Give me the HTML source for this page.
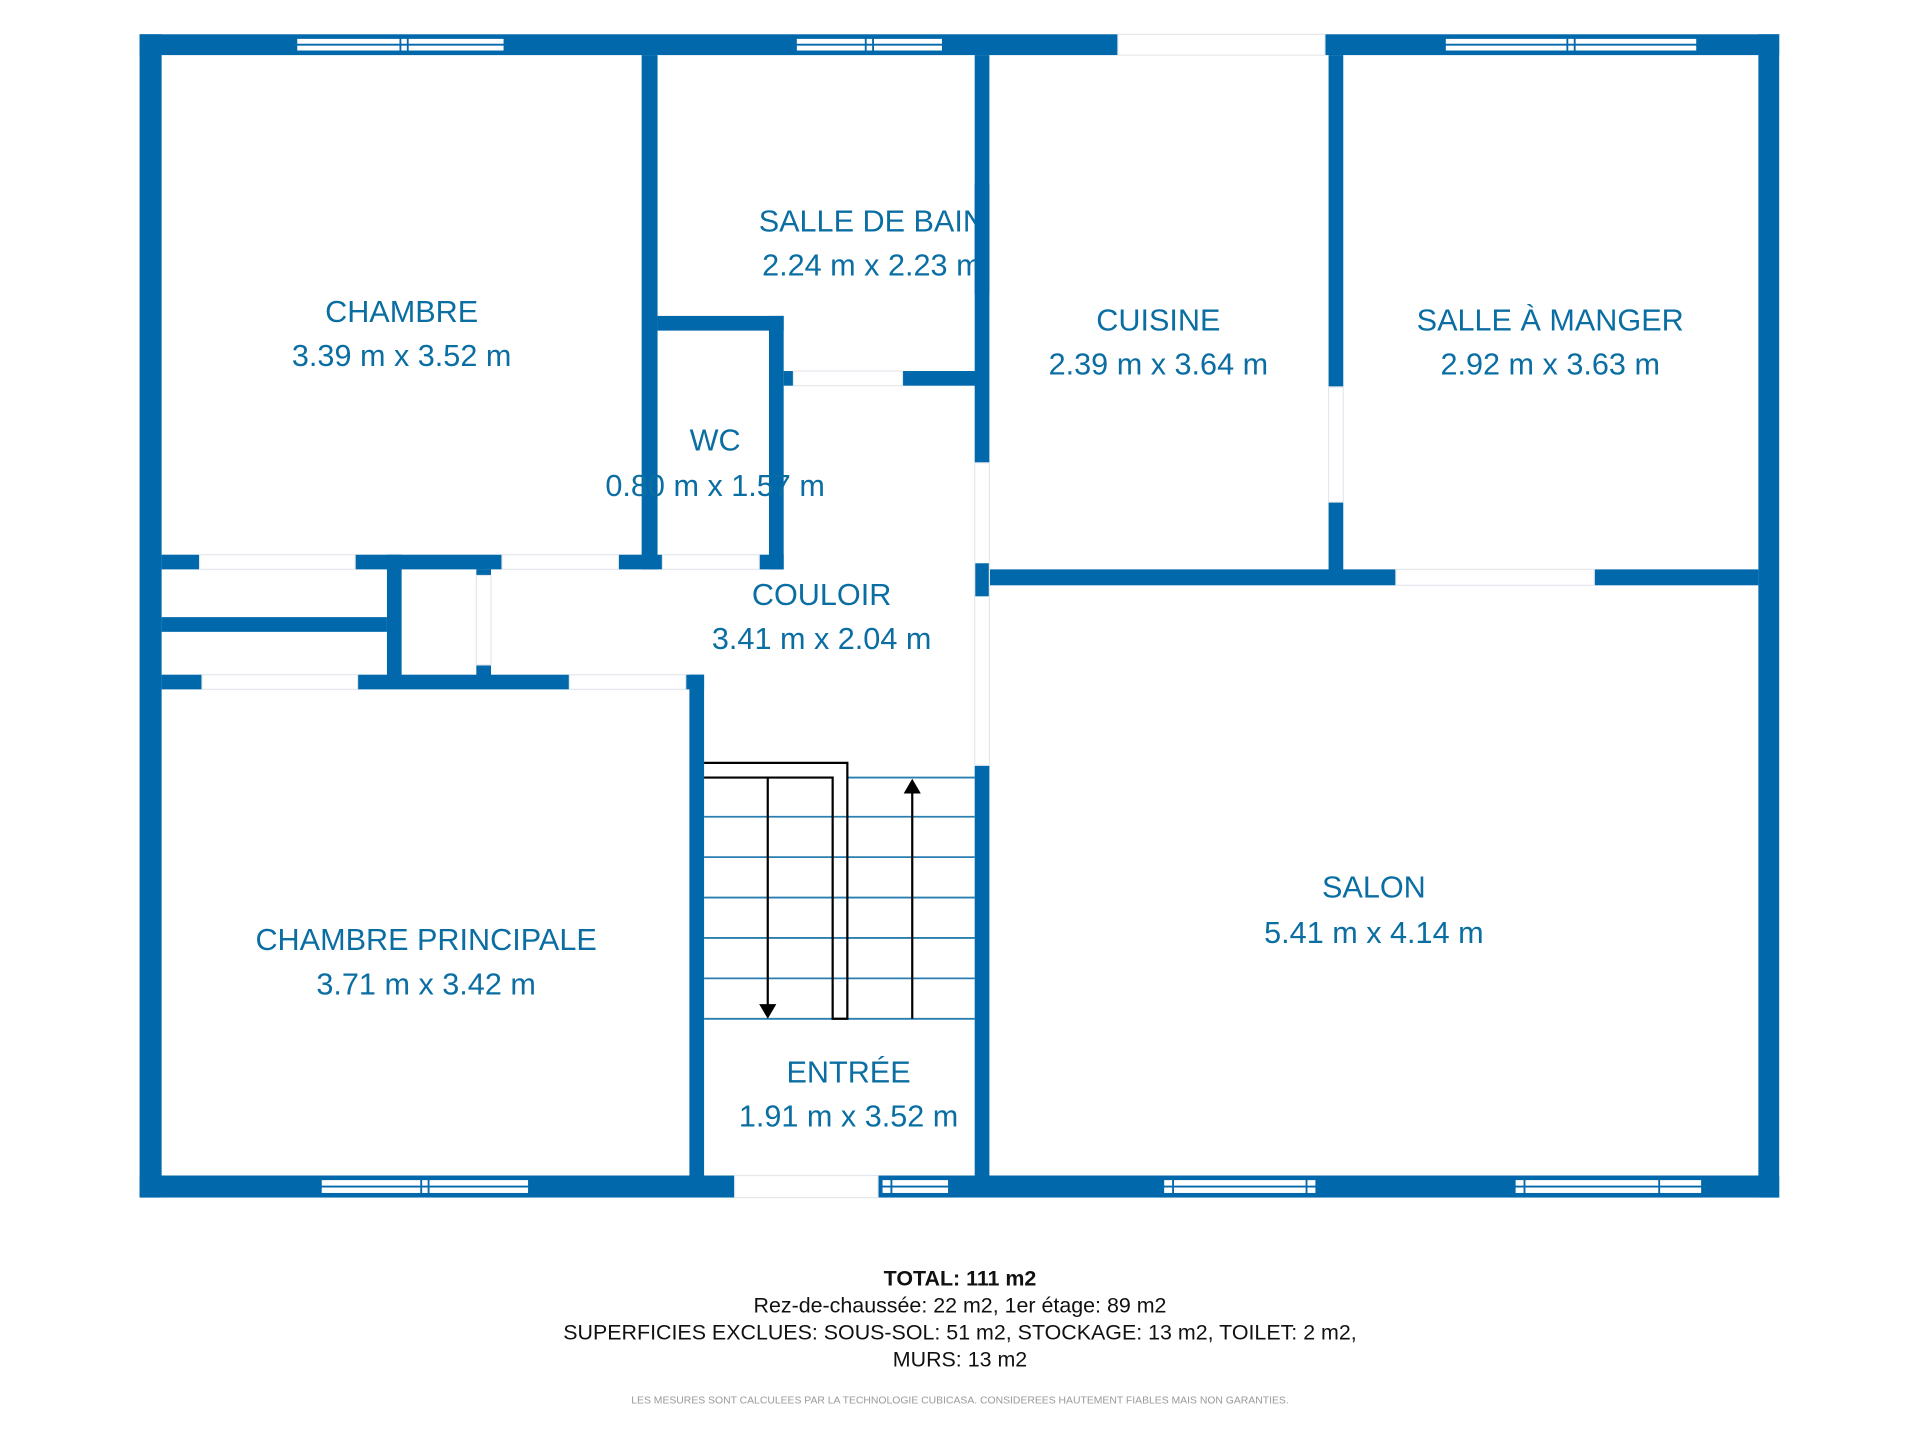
<!DOCTYPE html>
<html><head><meta charset="utf-8"><style>
html,body{margin:0;padding:0;background:#fff;}
svg{display:block}
.t{font-family:"Liberation Sans",sans-serif;fill:#0b6ea3;font-size:25px;text-anchor:middle}
.b{font-family:"Liberation Sans",sans-serif;fill:#111;font-size:17.5px;text-anchor:middle}
</style></head><body>
<svg width="1920" height="1440" viewBox="0 0 1568 1176" xmlns="http://www.w3.org/2000/svg">
<rect width="1568" height="1176" fill="#fff"/>
<g fill="#0068ab">
<rect x="114" y="28" width="799" height="17"/>
<rect x="1082" y="28" width="371" height="17"/>
<rect x="114" y="28" width="18" height="950"/>
<rect x="1436" y="28" width="17" height="950"/>
<rect x="114" y="960" width="486" height="18"/>
<rect x="717" y="960" width="736" height="18"/>
<rect x="524" y="45" width="13" height="420"/>
<rect x="537" y="258" width="103" height="12"/>
<rect x="628" y="258" width="12" height="207"/>
<rect x="640" y="303" width="8" height="12"/>
<rect x="737" y="303" width="60" height="12"/>
<rect x="796" y="45" width="12" height="333"/>
<rect x="796" y="460" width="12" height="27"/>
<rect x="796" y="625" width="12" height="335"/>
<rect x="1085" y="45" width="12" height="271"/>
<rect x="1085" y="410" width="12" height="60"/>
<rect x="796" y="465" width="344" height="13"/>
<rect x="1302" y="465" width="134" height="13"/>
<rect x="132" y="453" width="31" height="12"/>
<rect x="290" y="453" width="120" height="12"/>
<rect x="505" y="453" width="36" height="12"/>
<rect x="620" y="453" width="20" height="12"/>
<rect x="316" y="453" width="12" height="100"/>
<rect x="132" y="504" width="184" height="12"/>
<rect x="389" y="465" width="12" height="5"/>
<rect x="389" y="543" width="12" height="10"/>
<rect x="132" y="551" width="33" height="12"/>
<rect x="292" y="551" width="173" height="12"/>
<rect x="560" y="551" width="15" height="12"/>
<rect x="563" y="551" width="12" height="409"/>
</g>
<g fill="#fff" stroke="#0068ab" stroke-width="1.5">
<rect x="242" y="31" width="170" height="11"/><line x1="242" y1="36.5" x2="412" y2="36.5"/><line x1="327" y1="31" x2="327" y2="42"/><line x1="333" y1="31" x2="333" y2="42"/>
<rect x="650" y="31" width="120" height="11"/><line x1="650" y1="36.5" x2="770" y2="36.5"/><line x1="707" y1="31" x2="707" y2="42"/><line x1="713" y1="31" x2="713" y2="42"/>
<rect x="1180" y="31" width="206" height="11"/><line x1="1180" y1="36.5" x2="1386" y2="36.5"/><line x1="1280" y1="31" x2="1280" y2="42"/><line x1="1286" y1="31" x2="1286" y2="42"/>
<rect x="262" y="963" width="170" height="12"/><line x1="262" y1="969" x2="432" y2="969"/><line x1="344" y1="963" x2="344" y2="975"/><line x1="350" y1="963" x2="350" y2="975"/>
<rect x="720" y="963" width="55" height="12"/><line x1="720" y1="969" x2="775" y2="969"/><line x1="728" y1="963" x2="728" y2="975"/>
<rect x="950" y="963" width="125" height="12"/><line x1="950" y1="969" x2="1075" y2="969"/><line x1="958" y1="963" x2="958" y2="975"/><line x1="1067" y1="963" x2="1067" y2="975"/>
<rect x="1237" y="963" width="153" height="12"/><line x1="1237" y1="969" x2="1390" y2="969"/><line x1="1245" y1="963" x2="1245" y2="975"/><line x1="1355" y1="963" x2="1355" y2="975"/>
</g>
<g fill="none" stroke="#e4e8ec" stroke-width="1">
<rect x="600" y="960" width="117" height="18"/>
<rect x="913" y="28" width="169" height="17"/>
<rect x="648" y="303" width="89" height="12"/>
<rect x="1085" y="316" width="12" height="94"/>
<rect x="796" y="378" width="12" height="247"/>
<rect x="1140" y="465" width="162" height="13"/>
<rect x="163" y="453" width="127" height="12"/>
<rect x="410" y="453" width="95" height="12"/>
<rect x="541" y="453" width="79" height="12"/>
<rect x="165" y="551" width="127" height="12"/>
<rect x="465" y="551" width="95" height="12"/>
<rect x="389" y="470" width="12" height="73"/>
</g>
<g stroke="#2a7fb0" stroke-width="1.5">
<line x1="692" y1="635" x2="796" y2="635"/>
<line x1="575" y1="667" x2="796" y2="667"/>
<line x1="575" y1="700" x2="796" y2="700"/>
<line x1="575" y1="733" x2="796" y2="733"/>
<line x1="575" y1="766" x2="796" y2="766"/>
<line x1="575" y1="799" x2="796" y2="799"/>
<line x1="575" y1="832" x2="796" y2="832"/>
</g>
<g stroke="#000" stroke-width="1.8" fill="none">
<polyline points="575,623 692,623 692,832 680,832 680,635 575,635"/>
<line x1="627" y1="635" x2="627" y2="822"/>
<line x1="745" y1="832" x2="745" y2="645"/>
</g>
<polygon points="620,820 634,820 627,832" fill="#000"/>
<polygon points="738,648 752,648 745,636" fill="#000"/>
<text class="t" x="328" y="263">CHAMBRE</text>
<text class="t" x="328" y="299">3.39 m x 3.52 m</text>
<text class="t" x="712" y="189">SALLE DE BAIN</text>
<text class="t" x="712" y="225">2.24 m x 2.23 m</text>
<text class="t" x="584" y="368">WC</text>
<text class="t" x="584" y="405">0.80 m x 1.57 m</text>
<text class="t" x="946" y="270">CUISINE</text>
<text class="t" x="946" y="306">2.39 m x 3.64 m</text>
<text class="t" x="1266" y="270">SALLE À MANGER</text>
<text class="t" x="1266" y="306">2.92 m x 3.63 m</text>
<text class="t" x="671" y="494">COULOIR</text>
<text class="t" x="671" y="530">3.41 m x 2.04 m</text>
<text class="t" x="1122" y="733">SALON</text>
<text class="t" x="1122" y="770">5.41 m x 4.14 m</text>
<text class="t" x="348" y="776">CHAMBRE PRINCIPALE</text>
<text class="t" x="348" y="812">3.71 m x 3.42 m</text>
<text class="t" x="693" y="884">ENTRÉE</text>
<text class="t" x="693" y="920">1.91 m x 3.52 m</text>
<rect x="796" y="150" width="12" height="90" fill="#0068ab"/>
<text class="b" x="784" y="1050" font-weight="bold">TOTAL: 111 m2</text>
<text class="b" x="784" y="1072">Rez-de-chaussée: 22 m2, 1er étage: 89 m2</text>
<text class="b" x="784" y="1094">SUPERFICIES EXCLUES: SOUS-SOL: 51 m2, STOCKAGE: 13 m2, TOILET: 2 m2,</text>
<text class="b" x="784" y="1116">MURS: 13 m2</text>
<text x="784" y="1146" font-family="Liberation Sans,sans-serif" font-size="8.5" fill="#999" text-anchor="middle">LES MESURES SONT CALCULEES PAR LA TECHNOLOGIE CUBICASA. CONSIDEREES HAUTEMENT FIABLES MAIS NON GARANTIES.</text>
</svg>
</body></html>
